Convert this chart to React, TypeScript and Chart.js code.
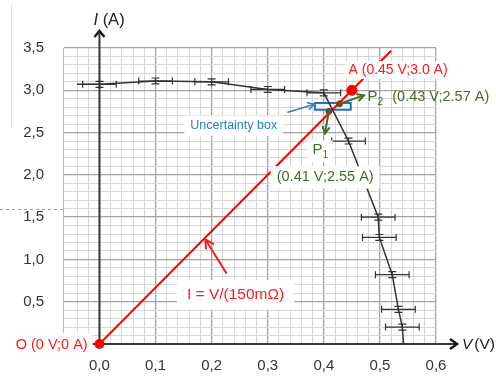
import React, { useEffect, useRef } from 'react';
import { Chart, registerables } from 'chart.js';

Chart.register(...registerables);

// ---- data ----
const curveV = [-0.04, 0.0, 0.1, 0.2, 0.3, 0.4, 0.444, 0.497, 0.499, 0.522, 0.533, 0.54, 0.542];
const curveI = [3.07, 3.07, 3.11, 3.1, 3.01, 2.97, 2.4, 1.5, 1.26, 0.82, 0.41, 0.2, 0.0];
const measV = [0.0, 0.1, 0.2, 0.3, 0.4, 0.444, 0.497, 0.499, 0.522, 0.533, 0.54];
const measI = [3.07, 3.11, 3.1, 3.01, 2.97, 2.4, 1.5, 1.26, 0.82, 0.41, 0.2];
const errV = 0.03;
const errI = 0.035;
const lineV = [0, 0.52];
const lineI = [0, 3.467];
const pointOV = [0];
const pointOI = [0];
const pointAV = [0.45];
const pointAI = [3.0];
const pV = [0.409, 0.428];
const pI = [2.75, 2.84];
const boxV = [0.384, 0.448];
const boxI = [2.77, 2.85];
const xTickValues = [0, 0.1, 0.2, 0.3, 0.4, 0.5, 0.6];
const xTickLabels = ['0,0', '0,1', '0,2', '0,3', '0,4', '0,5', '0,6'];
const yTickValues = [0.5, 1.0, 1.5, 2.0, 2.5, 3.0, 3.5];
const yTickLabels = ['0,5', '1,0', '1,5', '2,0', '2,5', '3,0', '3,5'];

const FONT = '"Liberation Sans", Arial, sans-serif';
const RED = '#ff1a1a';
const GREEN = '#476a2e';
const BLUE_TEXT = '#1f7fce';

const isMulti = (v: number, step: number) => Math.abs(v / step - Math.round(v / step)) < 1e-6;
const findLabel = (v: number, vals: number[], labels: string[]) => {
  for (let i = 0; i < vals.length; i++) if (Math.abs(v - vals[i]) < 1e-6) return labels[i];
  return '';
};

function textBox(ctx: CanvasRenderingContext2D, text: string, x: number, y: number, font: string, color: string, align: 'left' | 'right', padX: number, padY: number, bg = true) {
  ctx.font = font;
  const w = ctx.measureText(text).width;
  const left = align === 'left' ? x : x - w;
  const size = parseFloat(font.match(/([\d.]+)px/)![1]);
  if (bg) {
    ctx.fillStyle = '#ffffff';
    ctx.fillRect(left - padX, y - size / 2 - padY, w + padX * 2, size + padY * 2);
  }
  ctx.fillStyle = color;
  ctx.textAlign = 'left';
  ctx.textBaseline = 'middle';
  ctx.fillText(text, left, y);
  return w;
}

function arrow(ctx: CanvasRenderingContext2D, x0: number, y0: number, x1: number, y1: number, color: string, width: number, head: number) {
  ctx.strokeStyle = color;
  ctx.lineWidth = width;
  ctx.lineCap = 'round';
  ctx.beginPath();
  ctx.moveTo(x0, y0);
  ctx.lineTo(x1, y1);
  ctx.stroke();
  const a = Math.atan2(y1 - y0, x1 - x0);
  ctx.beginPath();
  ctx.moveTo(x1 - head * Math.cos(a - 0.5), y1 - head * Math.sin(a - 0.5));
  ctx.lineTo(x1, y1);
  ctx.lineTo(x1 - head * Math.cos(a + 0.5), y1 - head * Math.sin(a + 0.5));
  ctx.stroke();
}

const overlay = {
  id: 'overlay',
  beforeDatasetsDraw(chart: any) {
    const { ctx, chartArea, scales } = chart;
    const x = scales.x, y = scales.y;
    ctx.save();
    // faint artefacts at left
    ctx.strokeStyle = '#9a9a9a';
    ctx.lineWidth = 1;
    ctx.setLineDash([3, 3]);
    ctx.beginPath();
    const yd = Math.round(y.getPixelForValue(1.6)) + 0.5;
    ctx.moveTo(0, yd);
    ctx.lineTo(chartArea.left, yd);
    ctx.stroke();
    ctx.setLineDash([]);
    ctx.strokeStyle = '#dddddd';
    ctx.beginPath();
    ctx.moveTo(11.5, 5);
    ctx.lineTo(11.5, 128);
    ctx.stroke();

    // uncertainty box
    const bx0 = x.getPixelForValue(boxV[0]);
    const bx1 = x.getPixelForValue(boxV[1]);
    const by0 = y.getPixelForValue(boxI[1]);
    const by1 = y.getPixelForValue(boxI[0]);
    ctx.fillStyle = '#eef4fb';
    ctx.fillRect(bx0, by0, bx1 - bx0, by1 - by0);
    ctx.strokeStyle = '#1f6fbd';
    ctx.lineWidth = 2;
    ctx.strokeRect(bx0, by0, bx1 - bx0, by1 - by0);

    // axes with arrows
    const x0 = x.getPixelForValue(0);
    const y0 = y.getPixelForValue(0);
    ctx.strokeStyle = '#3a3a3a';
    ctx.lineWidth = 2;
    ctx.beginPath();
    ctx.moveTo(x0, y0);
    ctx.lineTo(x0, chartArea.top - 16);
    ctx.moveTo(chartArea.left, y0);
    ctx.lineTo(chartArea.right + 20, y0);
    ctx.stroke();
    ctx.strokeStyle = '#1a1a1a';
    ctx.lineWidth = 2.5;
    ctx.lineJoin = 'miter';
    ctx.beginPath();
    const ty = chartArea.top - 17;
    ctx.moveTo(x0 - 5, ty + 6);
    ctx.lineTo(x0, ty);
    ctx.lineTo(x0 + 5, ty + 6);
    const tx = chartArea.right + 21;
    ctx.moveTo(tx - 7, y0 - 5);
    ctx.lineTo(tx, y0);
    ctx.lineTo(tx - 7, y0 + 5);
    ctx.stroke();
    ctx.restore();
  },
  afterDatasetsDraw(chart: any) {
    const { ctx, chartArea, scales } = chart;
    const x = scales.x, y = scales.y;
    const px = (v: number) => x.getPixelForValue(v);
    const py = (v: number) => y.getPixelForValue(v);
    ctx.save();

    // error bars
    ctx.strokeStyle = '#333333';
    ctx.lineWidth = 1.2;
    for (let i = 0; i < measV.length; i++) {
      const cx = px(measV[i]), cy = py(measI[i]);
      const l = px(measV[i] - errV), r = px(measV[i] + errV);
      const t = py(measI[i] + errI), b = py(measI[i] - errI);
      ctx.beginPath();
      ctx.moveTo(l, cy); ctx.lineTo(r, cy);
      ctx.moveTo(l, cy - 3.5); ctx.lineTo(l, cy + 3.5);
      ctx.moveTo(r, cy - 3.5); ctx.lineTo(r, cy + 3.5);
      ctx.moveTo(cx, t); ctx.lineTo(cx, b);
      ctx.moveTo(cx - 4, t); ctx.lineTo(cx + 4, t);
      ctx.moveTo(cx - 4, b); ctx.lineTo(cx + 4, b);
      ctx.stroke();
    }

    // arrows
    arrow(ctx, px(pV[1]), py(pI[1]), px(0.4715), py(2.94), GREEN, 2, 7);
    arrow(ctx, px(pV[0]), py(pI[0]), px(0.402), py(2.49), GREEN, 2, 7);
    arrow(ctx, px(0.336), py(2.74), px(0.383), py(2.835), '#3b78c9', 1.5, 7);
    arrow(ctx, px(0.226), py(0.84), px(0.189), py(1.235), RED, 2, 9);

    // labels
    textBox(ctx, 'A (0.45 V;3.0 A)', px(0.444), py(3.24), `14px ${FONT}`, RED, 'left', 3, 2);
    // P2
    {
      const lx = px(0.478), ly = py(2.92);
      ctx.font = `15px ${FONT}`;
      ctx.fillStyle = GREEN;
      ctx.textBaseline = 'middle';
      ctx.textAlign = 'left';
      ctx.fillText('P', lx, ly);
      const w = ctx.measureText('P').width;
      ctx.font = `10px ${FONT}`;
      ctx.fillText('2', lx + w, ly + 5);
      textBox(ctx, '(0.43 V;2.57 A)', px(0.522), ly, `14.5px ${FONT}`, GREEN, 'left', 2, 2, false);
    }
    textBox(ctx, 'Uncertainty box', px(0.162), py(2.58), `12.5px ${FONT}`, BLUE_TEXT, 'left', 6, 4);
    // P1
    {
      const lx = px(0.38), ly = py(2.29);
      ctx.font = `15px ${FONT}`;
      const w = ctx.measureText('P').width;
      ctx.fillStyle = '#ffffff';
      ctx.fillRect(lx - 4, ly - 10, w + 14, 22);
      ctx.fillStyle = GREEN;
      ctx.textBaseline = 'middle';
      ctx.textAlign = 'left';
      ctx.fillText('P', lx, ly);
      ctx.font = `10px ${FONT}`;
      ctx.fillText('1', lx + w, ly + 5);
    }
    textBox(ctx, '(0.41 V;2.55 A)', px(0.316), py(1.97), `14.5px ${FONT}`, GREEN, 'left', 6, 4);
    textBox(ctx, 'I = V/(150m\u03A9)', px(0.156), py(0.58), `15.5px ${FONT}`, RED, 'left', 10, 7);
    textBox(ctx, 'O (0 V;0 A)', px(-0.021), py(0) + 1, `14.5px ${FONT}`, RED, 'right', 5, 5);

    // red dot O on top of its label box
    ctx.fillStyle = '#ff0000';
    ctx.beginPath();
    ctx.arc(px(pointOV[0]), py(pointOI[0]), 5, 0, Math.PI * 2);
    ctx.fill();

    // axis titles
    {
      const ax = px(0) - 6, ay = chartArea.top - 28;
      ctx.fillStyle = '#222';
      ctx.textBaseline = 'middle';
      ctx.textAlign = 'left';
      ctx.font = `italic 16.5px ${FONT}`;
      ctx.fillText('I', ax, ay);
      const w = ctx.measureText('I ').width;
      ctx.font = `16.5px ${FONT}`;
      ctx.fillText('(A)', ax + w, ay);
    }
    {
      const ax = chartArea.right + 26, ay = py(0) + 1;
      ctx.fillStyle = '#222';
      ctx.textBaseline = 'middle';
      ctx.textAlign = 'left';
      ctx.font = `italic 15.5px ${FONT}`;
      ctx.fillText('V', ax, ay);
      const w = ctx.measureText('V').width;
      ctx.font = `15.5px ${FONT}`;
      ctx.fillText('(V)', ax + w + 2, ay);
    }
    ctx.restore();
  },
};

const gridColor = (step: number) => (c: any) => {
  const v = c.tick ? c.tick.value : 0;
  return isMulti(v, step) ? '#a3a3a3' : '#d6d6d6';
};
const gridWidth = (step: number) => (c: any) => {
  const v = c.tick ? c.tick.value : 0;
  return isMulti(v, step) ? 1.3 : 1;
};

export default function App() {
  const ref = useRef<HTMLCanvasElement>(null);
  useEffect(() => {
    if (!ref.current) return;
    const chart = new Chart(ref.current, {
      type: 'line',
      data: {
        datasets: [
          {
            label: 'curve',
            data: curveV.map((v, i) => ({ x: v, y: curveI[i] })),
            borderColor: '#333333',
            borderWidth: 1.5,
            pointRadius: 0,
            tension: 0,
            fill: false,
          },
          {
            label: 'law',
            data: lineV.map((v, i) => ({ x: v, y: lineI[i] })),
            borderColor: '#ff0000',
            borderWidth: 2,
            pointRadius: 0,
            fill: false,
          },
          {
            label: 'A',
            data: pointAV.map((v, i) => ({ x: v, y: pointAI[i] })),
            showLine: false,
            pointRadius: 5,
            pointBackgroundColor: '#ff0000',
            pointBorderColor: '#ff0000',
          },
          {
            label: 'P',
            data: pV.map((v, i) => ({ x: v, y: pI[i] })),
            showLine: false,
            pointRadius: 3,
            pointBackgroundColor: '#3f5f28',
            pointBorderColor: '#3f5f28',
          },
        ],
      },
      options: {
        responsive: false,
        animation: false,
        layout: { padding: { left: 0, top: 48, right: 60, bottom: 0 } },
        plugins: { legend: { display: false }, tooltip: { enabled: false } },
        scales: {
          x: {
            type: 'linear',
            min: -0.065,
            max: 0.6,
            afterFit: (s: any) => { s.height = 33; },
            ticks: {
              stepSize: 0.02,
              autoSkip: false,
              maxRotation: 0,
              padding: 13,
              color: '#333333',
              font: { family: FONT, size: 15 },
              callback: (v: any) => findLabel(Number(v), xTickValues, xTickLabels),
            },
            grid: { color: gridColor(0.1), lineWidth: gridWidth(0.1), drawTicks: false },
            border: { display: true, color: '#b5b5b5' },
          },
          y: {
            type: 'linear',
            min: 0,
            max: 3.5,
            afterFit: (s: any) => { s.width = 63; },
            ticks: {
              stepSize: 0.1,
              autoSkip: false,
              padding: 19,
              color: '#333333',
              font: { family: FONT, size: 15 },
              callback: (v: any) => findLabel(Number(v), yTickValues, yTickLabels),
            },
            grid: { color: gridColor(0.5), lineWidth: gridWidth(0.5), drawTicks: false },
            border: { display: true, color: '#b5b5b5' },
          },
        },
      },
      plugins: [overlay],
    } as any);
    return () => chart.destroy();
  }, []);
  return (
    <div style={{ position: 'fixed', left: 0, top: 0, width: 496, height: 377, background: '#fff' }}>
      <canvas ref={ref} width={496} height={377} style={{ width: 496, height: 377, display: 'block' }} />
    </div>
  );
}
